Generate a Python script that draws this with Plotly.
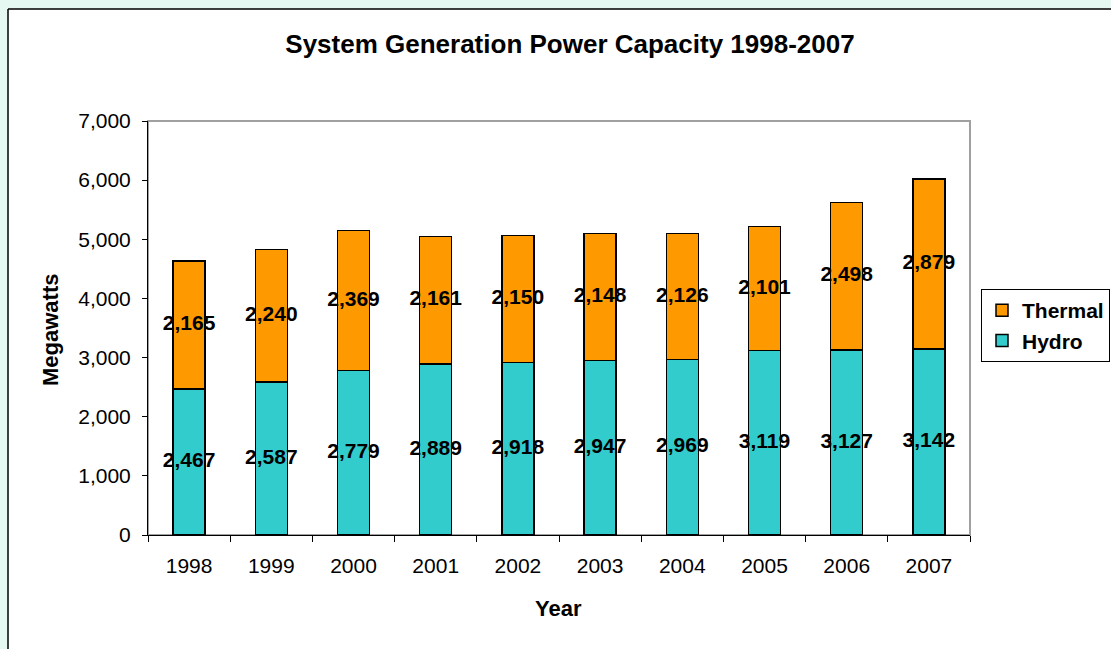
import plotly.graph_objects as go

# Installed generation capacity by source, in megawatts
years = ["1998", "1999", "2000", "2001", "2002", "2003", "2004", "2005", "2006", "2007"]
hydro = [2467, 2587, 2779, 2889, 2918, 2947, 2969, 3119, 3127, 3142]
thermal = [2165, 2240, 2369, 2161, 2150, 2148, 2126, 2101, 2498, 2879]

y_ticks = [0, 1000, 2000, 3000, 4000, 5000, 6000, 7000]

W, H = 1111, 649
L, R, T, B = 148, 970, 121, 535  # plot area edges in pixels

FONT = "Arial, Liberation Sans, sans-serif"
ORANGE = "#FF9900"
CYAN = "#33CCCC"


def px_x(x):
    return (x - L) / (R - L)


def px_y(y):
    return (B - y) / (B - T)


fig = go.Figure()

fig.add_trace(go.Bar(
    name="Hydro", x=years, y=hydro, width=0.39,
    marker=dict(color=CYAN, line=dict(color="black", width=1.5)),
    hoverinfo="x+y",
))
fig.add_trace(go.Bar(
    name="Thermal", x=years, y=thermal, width=0.39,
    marker=dict(color=ORANGE, line=dict(color="black", width=1.5)),
    hoverinfo="x+y",
))

# value labels centred in each segment
label_font = dict(family=FONT, size=21, color="black", weight="bold")
fig.add_trace(go.Scatter(
    x=years, y=[h / 2 for h in hydro], mode="text",
    text=[f"{v:,}" for v in hydro], textfont=label_font,
    showlegend=False, hoverinfo="skip",
))
fig.add_trace(go.Scatter(
    x=years, y=[h + t / 2 for h, t in zip(hydro, thermal)], mode="text",
    text=[f"{v:,}" for v in thermal], textfont=label_font,
    showlegend=False, hoverinfo="skip",
))

shapes = [
    # white chart panel with black top/left edge
    dict(type="rect", xref="paper", yref="paper",
         x0=px_x(8), x1=px_x(W + 20), y0=px_y(H + 20), y1=px_y(9),
         fillcolor="white", line=dict(width=0), layer="below"),
    dict(type="line", xref="paper", yref="paper",
         x0=px_x(8), x1=px_x(W + 20), y0=px_y(9), y1=px_y(9),
         line=dict(color="black", width=1.5)),
    dict(type="line", xref="paper", yref="paper",
         x0=px_x(8), x1=px_x(8), y0=px_y(9), y1=px_y(H + 20),
         line=dict(color="black", width=1.5)),
    # plot area frame
    dict(type="rect", xref="paper", yref="paper", x0=0, x1=1, y0=0, y1=1,
         line=dict(color="#A0A0A0", width=2), layer="below"),
]

title_font = dict(family=FONT, size=22, color="black", weight="bold")
annotations = [
    dict(text="Megawatts", xref="paper", yref="paper",
         x=px_x(50), y=px_y(330), xanchor="center", yanchor="middle",
         textangle=-90, showarrow=False, font=title_font),
    dict(text="Year", xref="paper", yref="paper",
         x=px_x(558), y=px_y(608), xanchor="center", yanchor="middle",
         showarrow=False, font=title_font),
]

fig.update_layout(
    width=W, height=H,
    margin=dict(l=L, r=W - R, t=T, b=H - B, autoexpand=False),
    barmode="stack",
    paper_bgcolor="#E6F8F2",
    plot_bgcolor="white",
    title=dict(text="System Generation Power Capacity 1998-2007",
               xref="container", yref="container",
               x=570 / W, y=1 - 44 / H, xanchor="center", yanchor="middle",
               font=dict(family=FONT, size=26, color="black", weight="bold")),
    xaxis=dict(type="category", showline=True, linecolor="black", linewidth=1,
               ticks="outside", tickson="boundaries", ticklen=6, tickcolor="black",
               showgrid=False, ticklabelstandoff=12,
               tickfont=dict(family=FONT, size=21, color="black")),
    yaxis=dict(range=[0, 7000], tickvals=y_ticks, tickformat=",",
               showline=True, linecolor="black", linewidth=1,
               ticks="outside", ticklen=5, tickcolor="black",
               showgrid=False, zeroline=False, ticklabelstandoff=7,
               tickfont=dict(family=FONT, size=21, color="black")),
    legend=dict(x=px_x(981), y=px_y(289), xanchor="left", yanchor="top",
                traceorder="reversed", bordercolor="black", borderwidth=1,
                bgcolor="white",
                font=dict(family=FONT, size=21, color="black", weight="bold")),
    shapes=shapes,
    annotations=annotations,
    showlegend=True,
)

fig.write_html("out.html")
